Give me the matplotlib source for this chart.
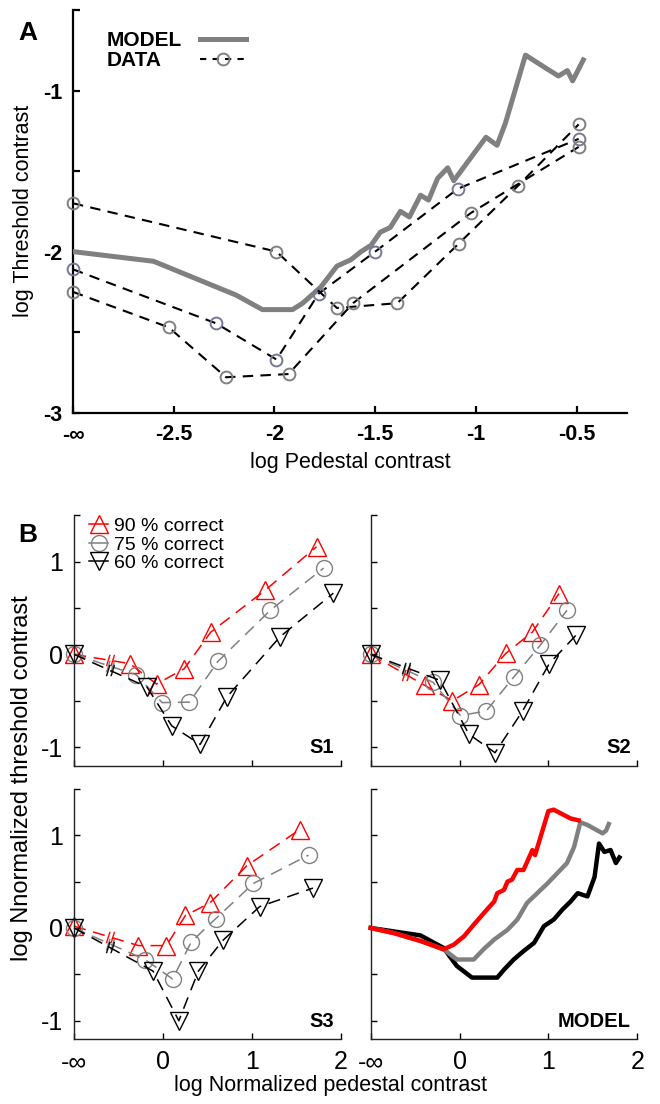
import numpy as np
import matplotlib.pyplot as plt
from matplotlib.lines import Line2D

plt.rcParams['font.family'] = ['Liberation Sans', 'DejaVu Sans']
plt.rcParams['axes.unicode_minus'] = False

GRAY = '#808080'

# ---------------- panel A data (log pedestal -> log threshold) ----------------
# -inf pedestal is drawn at x = -3
model_x = [-3.0, -2.6, -2.19, -2.06, -1.91, -1.86, -1.77, -1.69, -1.62, -1.57, -1.52,
           -1.475, -1.425, -1.375, -1.33, -1.275, -1.235, -1.19, -1.14, -1.11, -0.95,
           -0.895, -0.853, -0.754, -0.654, -0.59, -0.546, -0.52, -0.467]
model_y = [-2.0, -2.06, -2.27, -2.36, -2.36, -2.32, -2.22, -2.09, -2.05, -2.0, -1.96,
           -1.88, -1.85, -1.75, -1.785, -1.65, -1.68, -1.545, -1.48, -1.56, -1.29,
           -1.34, -1.2, -0.78, -0.86, -0.91, -0.876, -0.94, -0.81]

obs1_x = [-3.0, -1.99, -1.69, -1.39, -1.085, -0.79, -0.49]
obs1_y = [-1.70, -2.00, -2.35, -2.32, -1.95, -1.59, -1.21]
obs2_x = [-3.0, -2.29, -1.99, -1.78, -1.50, -1.09, -0.49]
obs2_y = [-2.11, -2.445, -2.67, -2.26, -2.00, -1.61, -1.30]
obs3_x = [-3.0, -2.525, -2.24, -1.93, -1.61, -1.025, -0.49]
obs3_y = [-2.25, -2.47, -2.78, -2.76, -2.32, -1.76, -1.35]

a_xticks = [-3, -2.5, -2, -1.5, -1, -0.5]
a_xticklabels = ['-\u221e', '-2.5', '-2', '-1.5', '-1', '-0.5']
a_yticks = [-3, -2.5, -2, -1.5, -1, -0.5]
a_yticklabels = ['-3', '', '-2', '', '-1', '']

# ---------------- panel B data (normalized, -inf drawn at x = -1) ----------------
levels = ['90 % correct', '75 % correct', '60 % correct']

s1_x90 = [-1, -0.372, -0.071, 0.24, 0.54, 1.15, 1.73]
s1_y90 = [0, -0.10, -0.32, -0.155, 0.24, 0.69, 1.16]
s1_x75 = [-1, -0.30, -0.008, 0.30, 0.62, 1.21, 1.81]
s1_y75 = [0, -0.22, -0.52, -0.515, -0.076, 0.475, 0.93]
s1_x60 = [-1, -0.18, 0.10, 0.42, 0.72, 1.32, 1.92]
s1_y60 = [0, -0.35, -0.77, -0.97, -0.46, 0.19, 0.66]

s2_x90 = [-1, -0.39, -0.08, 0.22, 0.52, 0.82, 1.12]
s2_y90 = [0, -0.335, -0.50, -0.325, 0.01, 0.24, 0.655]
s2_x75 = [-1, -0.30, 0.01, 0.30, 0.61, 0.91, 1.21]
s2_y75 = [0, -0.30, -0.66, -0.61, -0.245, 0.10, 0.475]
s2_x60 = [-1, -0.22, 0.105, 0.40, 0.71, 1.01, 1.31]
s2_y60 = [0, -0.28, -0.86, -1.06, -0.61, -0.10, 0.205]

s3_x90 = [-1, -0.275, 0.04, 0.255, 0.53, 0.945, 1.54]
s3_y90 = [0.02, -0.19, -0.19, 0.135, 0.27, 0.67, 1.06]
s3_x75 = [-1, -0.20, 0.11, 0.32, 0.595, 1.02, 1.64]
s3_y75 = [0, -0.34, -0.55, -0.15, 0.10, 0.48, 0.785]
s3_x60 = [-1, -0.11, 0.18, 0.40, 0.68, 1.09, 1.69]
s3_y60 = [0, -0.465, -1.0, -0.465, -0.13, 0.23, 0.43]

m_x90 = [-1, -0.74, -0.44, -0.18, -0.065, 0.05, 0.16, 0.31, 0.39, 0.425, 0.50, 0.54,
         0.59, 0.65, 0.72, 0.76, 0.82, 0.85, 1.0, 1.06, 1.25, 1.34]
m_y90 = [0, -0.055, -0.14, -0.23, -0.18, -0.09, 0.035, 0.20, 0.285, 0.375, 0.41, 0.50,
         0.52, 0.625, 0.625, 0.71, 0.84, 0.785, 1.26, 1.275, 1.18, 1.16]
m_x75 = [-1, -0.74, -0.44, -0.18, -0.03, 0.16, 0.27, 0.39, 0.54, 0.65, 0.76, 0.875,
         0.99, 1.10, 1.21, 1.29, 1.36, 1.44, 1.61, 1.65, 1.68]
m_y75 = [0, -0.055, -0.14, -0.23, -0.34, -0.34, -0.23, -0.125, -0.02, 0.09, 0.27, 0.375,
         0.48, 0.59, 0.70, 0.875, 1.14, 1.11, 1.02, 1.05, 1.12]
m_x60 = [-1, -0.44, -0.18, -0.03, 0.14, 0.425, 0.50, 0.61, 0.72, 0.84, 0.95, 1.06,
         1.16, 1.25, 1.33, 1.44, 1.52, 1.57, 1.63, 1.70, 1.76, 1.80]
m_y60 = [0, -0.08, -0.215, -0.41, -0.535, -0.535, -0.45, -0.34, -0.25, -0.16, 0.02, 0.09,
         0.20, 0.285, 0.375, 0.34, 0.55, 0.91, 0.82, 0.84, 0.70, 0.76]

b_xticks = [-1, 0, 1, 2]
b_xticklabels = ['-\u221e', '0', '1', '2']
b_yticks = [-1, -0.5, 0, 0.5, 1, 1.5]
b_yticklabels = ['-1', '', '0', '', '1', '']
break_x = -0.6  # where the axis-break mark sits on each line

fig = plt.figure(figsize=(6.6, 11.04), dpi=100)

# ---------------- panel A ----------------
axA = fig.add_axes([73 / 660, 1 - 412.7 / 1104, 554 / 660, 402.7 / 1104])
axA.plot(model_x, model_y, color=GRAY, lw=3.6, zorder=3)
obs_style = dict(color='k', lw=1.5, dashes=(5, 3.5), marker='o', ms=8.5,
                 mfc='none', mew=1.4, zorder=4, clip_on=False)
axA.plot(obs1_x, obs1_y, mec=GRAY, **obs_style)
axA.plot(obs2_x, obs2_y, mec='#77779a', **obs_style)
axA.plot(obs3_x, obs3_y, mec=GRAY, **obs_style)
axA.set_xlim(-3, -0.25)
axA.set_ylim(-3, -0.5)
axA.set_xticks(a_xticks)
axA.set_xticklabels(a_xticklabels, fontweight='bold', fontsize=15.5)
axA.set_yticks(a_yticks)
axA.set_yticklabels(a_yticklabels, fontweight='bold', fontsize=15.5)
for s in ['top', 'right']:
    axA.spines[s].set_visible(False)
for s in ['left', 'bottom']:
    axA.spines[s].set_linewidth(1.6)
axA.tick_params(direction='in', length=5, width=1.6, pad=8)
axA.set_xlabel('log Pedestal contrast', fontsize=15.5, labelpad=5)
axA.set_ylabel('log Threshold contrast', fontsize=15.5, labelpad=6)

# legend: labels column and keys column, both left aligned
blank = Line2D([], [], color='none')
leg_txt = axA.legend([blank, blank], ['MODEL', 'DATA'], loc='upper left',
                     bbox_to_anchor=(0.061, 0.948), frameon=False,
                     prop={'weight': 'bold', 'size': 15}, handlelength=0,
                     handletextpad=0, labelspacing=0.05, borderpad=0, borderaxespad=0)
axA.add_artist(leg_txt)
keys = [Line2D([], [], color=GRAY, lw=3.6),
        Line2D([], [], color='k', lw=1.5, dashes=(3, 3), marker='o', ms=8.5,
               mfc='none', mec=GRAY, mew=1.4)]
axA.legend(keys, ['', ''], loc='upper left', bbox_to_anchor=(0.229, 0.948),
           frameon=False, prop={'weight': 'bold', 'size': 15}, handlelength=2.2,
           handletextpad=0, labelspacing=0.05, borderpad=0, borderaxespad=0)
fig.text(28 / 660, 1 - 33 / 1104, 'A', fontsize=19, fontweight='bold', ha='center', va='center')

# ---------------- panel B ----------------
colors = ['#ff0000', GRAY, 'k']
markers = ['^', 'o', 'v']
msizes = [13, 11.5, 13]

lefts = [74 / 660, 370.7 / 660]
bottoms = [1 - 765.7 / 1104, 1 - 1039.3 / 1104]
w_b = 266.5 / 660
h_b = 250.5 / 1104

subjects = [
    ('S1', [(s1_x90, s1_y90), (s1_x75, s1_y75), (s1_x60, s1_y60)]),
    ('S2', [(s2_x90, s2_y90), (s2_x75, s2_y75), (s2_x60, s2_y60)]),
    ('S3', [(s3_x90, s3_y90), (s3_x75, s3_y75), (s3_x60, s3_y60)]),
    ('MODEL', [(m_x90, m_y90), (m_x75, m_y75), (m_x60, m_y60)]),
]

axes_b = []
for i, (name, series) in enumerate(subjects):
    row, col = divmod(i, 2)
    ax = fig.add_axes([lefts[col], bottoms[row], w_b, h_b])
    axes_b.append(ax)
    if name == 'MODEL':
        for (x, y), c in zip(series[::-1], colors[::-1]):
            ax.plot(x, y, color=c, lw=3.2, zorder=3, clip_on=False)
    else:
        for (x, y), c, m, ms in zip(series, colors, markers, msizes):
            ax.plot(x, y, color=c, lw=1.1, dashes=(8, 5), marker=m, ms=ms,
                    mfc='none', mec=c, mew=1.0, clip_on=False)
            by = np.interp(break_x, x[:2], y[:2])
            ax.plot([break_x], [by], marker='$//$', ms=8, color=c, mew=0.2, ls='none')
    ax.set_xlim(-1, 2)
    ax.set_ylim(-1.2, 1.5)
    ax.set_xticks(b_xticks)
    ax.set_yticks(b_yticks)
    for s in ['top', 'right']:
        ax.spines[s].set_visible(False)
    for s in ['left', 'bottom']:
        ax.spines[s].set_linewidth(1.0)
        ax.spines[s].set_color('#222222')
    ax.tick_params(direction='in', length=4, width=1.0, pad=8, labelsize=18)
    if col == 0:
        ax.set_yticklabels(b_yticklabels)
    else:
        ax.set_yticklabels([])
    if row == 1:
        ax.set_xticklabels(b_xticklabels)
    else:
        ax.set_xticklabels([])
    ax.text(0.975, 0.035, name, transform=ax.transAxes, ha='right', va='bottom',
            fontsize=14.5, fontweight='bold')

leg_handles = [Line2D([], [], color=c, lw=1.1, marker=m, ms=ms, mfc='none', mec=c, mew=1.0)
               for c, m, ms in zip(colors, markers, msizes)]
axes_b[0].legend(leg_handles, levels, loc='upper left', bbox_to_anchor=(0.02, 1.03),
                 frameon=False, fontsize=14, handlelength=1.0, handletextpad=0.3,
                 labelspacing=0.05, borderpad=0)

fig.text(28 / 660, 1 - 535 / 1104, 'B', fontsize=19, fontweight='bold', ha='center', va='center')
fig.text(22 / 660, 1 - 778 / 1104, 'log Nnormalized threshold contrast', rotation=90,
         fontsize=17, ha='center', va='center')
fig.text(330 / 660, 1 - 1086 / 1104, 'log Normalized pedestal contrast',
         fontsize=15.5, ha='center', va='center')

fig.savefig('out.png', dpi=100)
